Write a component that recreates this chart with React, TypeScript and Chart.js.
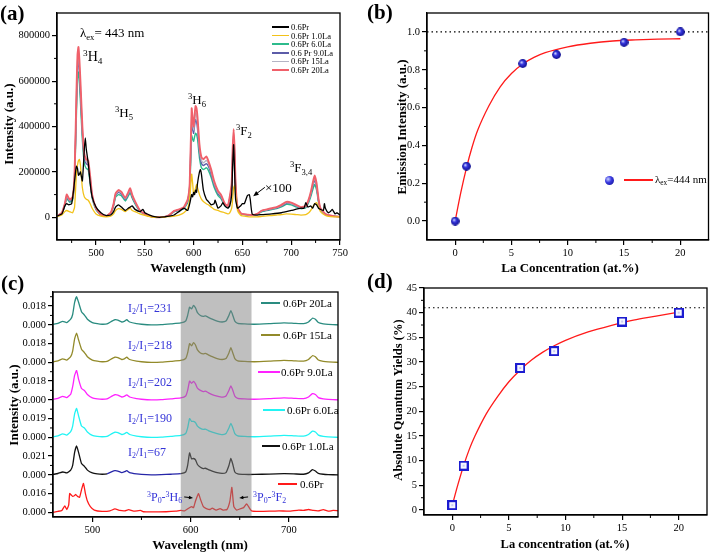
import React, { useEffect, useRef } from 'react';
import { Chart, registerables } from 'chart.js';
Chart.register(...registerables);

const SERIF = '"Liberation Serif", "Times New Roman", Times, serif';

// ================= (a) emission spectra, λex = 443 nm =================
const aWaveLa = [
  460, 465, 468, 470, 473, 476, 478, 480, 481, 482,
  483, 484, 486, 488, 490, 492, 494, 496, 500, 505,
  510, 515, 518, 520, 523, 526, 530, 533, 535, 537,
  540, 545, 550, 555, 560, 565, 570, 575, 580, 585,
  590, 594, 596, 598, 599, 600, 601, 602, 603, 604,
  606, 608, 610, 613, 615, 618, 621, 625, 628, 632,
  635, 637, 639, 640, 641, 642, 643, 645, 648, 650,
  655, 660, 665, 670, 675, 680, 685, 690, 695, 700,
  705, 710, 715, 718, 720, 722, 724, 726, 728, 730,
  735, 740, 745, 750,
];
const a20La = [
  5000, 20000, 60000, 100000, 78000, 90000, 190000, 560000, 715000, 750000,
  690000, 600000, 400000, 280000, 255000, 250000, 180000, 100000, 40000, 12000,
  5000, 20000, 60000, 105000, 120000, 112000, 85000, 110000, 128000, 100000,
  70000, 30000, 15000, 5000, 1000, 0, 2000, 10000, 28000, 35000,
  45000, 80000, 150000, 480000, 430000, 400000, 450000, 490000, 480000, 440000,
  320000, 265000, 256000, 268000, 250000, 210000, 160000, 116000, 100000, 60000,
  50000, 90000, 150000, 300000, 388000, 300000, 150000, 45000, 20000, 15000,
  12000, 10000, 15000, 30000, 35000, 40000, 45000, 55000, 68000, 65000,
  55000, 45000, 50000, 80000, 110000, 150000, 184000, 150000, 80000, 40000,
  15000, 8000, 4000, 3000,
];
const a15La = [
  5000, 19000, 58000, 95000, 75000, 86000, 180000, 540000, 690000, 720000,
  660000, 575000, 385000, 270000, 245000, 240000, 173000, 96000, 38000, 11000,
  5000, 19000, 57000, 100000, 115000, 108000, 82000, 105000, 122000, 96000,
  67000, 29000, 14000, 5000, 1000, 0, 2000, 10000, 27000, 33000,
  43000, 76000, 140000, 450000, 410000, 385000, 425000, 460000, 450000, 415000,
  300000, 250000, 240000, 250000, 238000, 200000, 152000, 110000, 95000, 57000,
  48000, 85000, 140000, 285000, 370000, 285000, 142000, 43000, 19000, 14000,
  11000, 10000, 14000, 29000, 33000, 38000, 43000, 52000, 65000, 62000,
  52000, 43000, 48000, 76000, 105000, 142000, 175000, 142000, 76000, 38000,
  14000, 8000, 4000, 3000,
];
const a9La = [
  5000, 18000, 55000, 90000, 72000, 83000, 175000, 515000, 660000, 690000,
  635000, 550000, 370000, 258000, 235000, 230000, 165000, 92000, 37000, 11000,
  5000, 18000, 55000, 97000, 110000, 103000, 78000, 101000, 118000, 92000,
  64000, 28000, 14000, 5000, 1000, 0, 2000, 9000, 26000, 32000,
  41000, 73000, 135000, 420000, 390000, 370000, 405000, 430000, 420000, 390000,
  285000, 237000, 228000, 236000, 226000, 190000, 145000, 104000, 90000, 55000,
  46000, 82000, 135000, 275000, 355000, 275000, 138000, 41000, 18000, 14000,
  11000, 9000, 14000, 28000, 32000, 37000, 41000, 50000, 62000, 60000,
  50000, 41000, 46000, 73000, 100000, 135000, 165000, 135000, 73000, 37000,
  14000, 7000, 4000, 3000,
];
const a6La = [
  4000, 17000, 50000, 82000, 66000, 76000, 160000, 470000, 610000, 640000,
  590000, 510000, 340000, 238000, 215000, 210000, 150000, 85000, 34000, 10000,
  4000, 17000, 50000, 88000, 100000, 95000, 72000, 93000, 108000, 85000,
  59000, 25000, 13000, 4000, 1000, 0, 2000, 9000, 24000, 30000,
  38000, 65000, 120000, 360000, 345000, 335000, 355000, 370000, 365000, 345000,
  262000, 218000, 210000, 218000, 208000, 175000, 132000, 95000, 82000, 50000,
  42000, 75000, 125000, 250000, 330000, 255000, 128000, 38000, 17000, 13000,
  10000, 9000, 13000, 25000, 30000, 34000, 38000, 46000, 57000, 55000,
  46000, 38000, 42000, 66000, 90000, 120000, 145000, 120000, 66000, 34000,
  13000, 7000, 4000, 3000,
];
const a1La = [
  3000, 10000, 25000, 30000, 24000, 20000, 45000, 200000, 230000, 250000,
  255000, 230000, 130000, 90000, 80000, 75000, 60000, 40000, 15000, 5000,
  2000, 5000, 15000, 30000, 38000, 35000, 25000, 35000, 40000, 30000,
  25000, 15000, 8000, 3000, 0, 0, 1000, 3000, 5000, 10000,
  20000, 40000, 80000, 190000, 150000, 100000, 110000, 130000, 145000, 130000,
  100000, 80000, 70000, 60000, 55000, 45000, 35000, 30000, 25000, 20000,
  15000, 20000, 40000, 80000, 130000, 140000, 100000, 30000, 10000, 6000,
  3000, 2000, 2000, 4000, 6000, 8000, 10000, 12000, 15000, 14000,
  12000, 10000, 12000, 20000, 30000, 45000, 60000, 65000, 45000, 25000,
  8000, 3000, 2000, 1000,
];
const aWavePr = [
  460, 465, 468, 470, 472, 475, 477, 479, 480, 481,
  482, 483, 484, 486, 488, 489, 490, 492, 494, 496,
  500, 505, 510, 515, 518, 520, 523, 526, 530, 533,
  535, 537, 540, 545, 548, 550, 555, 560, 565, 570,
  575, 580, 585, 590, 594, 596, 598, 599, 600, 601,
  602, 603, 604, 606, 607, 608, 610, 613, 615, 618,
  621, 622, 625, 628, 630, 632, 635, 637, 639, 640,
  641, 642, 643, 645, 648, 650, 652, 655, 657, 658,
  660, 665, 670, 680, 690, 700, 710, 713, 715, 717,
  720, 722, 724, 726, 728, 730, 733, 734, 735, 738,
  740, 742, 745, 747, 750,
];
const aPr = [
  5000, 15000, 50000, 60000, 55000, 60000, 120000, 200000, 225000, 215000,
  185000, 190000, 200000, 160000, 300000, 350000, 300000, 240000, 150000, 90000,
  45000, 20000, 8000, 10000, 25000, 45000, 55000, 45000, 30000, 40000,
  45000, 50000, 35000, 25000, 35000, 20000, 10000, 3000, 0, 2000,
  5000, 10000, 25000, 40000, 30000, 60000, 100000, 90000, 110000, 100000,
  120000, 110000, 150000, 200000, 210000, 190000, 120000, 80000, 70000, 55000,
  60000, 75000, 40000, 50000, 65000, 50000, 40000, 50000, 100000, 230000,
  320000, 200000, 80000, 40000, 50000, 60000, 60000, 95000, 100000, 80000,
  15000, 10000, 12000, 15000, 20000, 30000, 40000, 40000, 65000, 45000,
  50000, 40000, 60000, 55000, 40000, 35000, 30000, 60000, 40000, 20000,
  25000, 35000, 15000, 20000, 10000,
];
const aXTicks = [500, 550, 600, 650, 700, 750];
const aYTicks = [0, 200000, 400000, 600000, 800000];
const aNames = ['0.6Pr', '0.6Pr 1.0La', '0.6Pr 6.0La', '0.6 Pr 9.0La', '0.6Pr 15La', '0.6Pr 20La'];
const aColors = ['#000000', '#f2c21a', '#2dbb8c', '#5c5ca8', '#b4b4c4', '#f0606a'];
const aArrowFrom = { x: 673, y: 132000 };
const aArrowTo = { x: 661, y: 93000 };

// ================= (b) emission intensity vs La =================
const bConc = [0, 1, 6, 9, 15, 20];
const bIntensity = [0, 0.29, 0.833, 0.88, 0.945, 1.0];
const bFitConc = [0, 0.5, 1, 1.5, 2, 3, 4, 5, 6, 7, 8, 10, 12, 14, 16, 18, 20];
const bFitIntensity = [0, 0.15, 0.28, 0.39, 0.48, 0.61, 0.71, 0.78, 0.83, 0.865, 0.89, 0.921, 0.94, 0.952, 0.958, 0.962, 0.964];
const bSaturation = 1.0;
const bXTicks = [0, 5, 10, 15, 20];
const bYTicks = [0, 0.2, 0.4, 0.6, 0.8, 1.0];

// ================= (c) normalised, stacked spectra =================
const cWaveLa = [
  460, 465, 470, 474, 478, 480, 482, 484, 486, 489,
  492, 495, 500, 505, 510, 515, 520, 523, 526, 530,
  533, 535, 538, 545, 550, 560, 570, 580, 590, 595,
  597, 599, 601, 603, 605, 607, 610, 613, 615, 618,
  622, 627, 632, 636, 639, 641, 643, 645, 648, 655,
  665, 680, 695, 705, 715, 720, 724, 727, 730, 735,
  740, 750,
];
const c20La = [
  0.02, 0.08, 0.18, 0.12, 0.3, 0.55, 1.2, 1.5, 1.2, 0.7,
  0.52, 0.3, 0.12, 0.06, 0.03, 0.05, 0.2, 0.27, 0.25, 0.15,
  0.2, 0.27, 0.15, 0.06, 0.03, 0.0, 0.01, 0.05, 0.1, 0.2,
  0.5, 0.94, 0.85, 1.03, 0.9, 0.65, 0.5, 0.45, 0.48, 0.4,
  0.3, 0.2, 0.15, 0.2, 0.5, 0.76, 0.5, 0.2, 0.08, 0.05,
  0.03, 0.06, 0.1, 0.08, 0.06, 0.15, 0.35, 0.3, 0.12, 0.05,
  0.02, 0.0,
];
const c15La = [
  0.02, 0.08, 0.18, 0.12, 0.3, 0.6, 1.25, 1.56, 1.2, 0.7,
  0.52, 0.3, 0.12, 0.06, 0.03, 0.05, 0.2, 0.27, 0.25, 0.15,
  0.2, 0.27, 0.15, 0.06, 0.03, 0.0, 0.01, 0.05, 0.1, 0.2,
  0.5, 1.0, 0.88, 1.05, 0.92, 0.66, 0.5, 0.45, 0.48, 0.4,
  0.3, 0.2, 0.15, 0.2, 0.5, 0.78, 0.5, 0.2, 0.08, 0.05,
  0.03, 0.06, 0.1, 0.08, 0.06, 0.15, 0.35, 0.3, 0.12, 0.05,
  0.02, 0.0,
];
const c9La = [
  0.02, 0.08, 0.18, 0.12, 0.3, 0.7, 1.3, 1.56, 1.1, 0.6,
  0.5, 0.28, 0.1, 0.05, 0.03, 0.05, 0.2, 0.27, 0.25, 0.15,
  0.2, 0.26, 0.15, 0.06, 0.03, 0.0, 0.01, 0.05, 0.1, 0.2,
  0.5, 1.0, 0.88, 0.98, 0.85, 0.62, 0.5, 0.44, 0.46, 0.38,
  0.28, 0.2, 0.14, 0.2, 0.5, 0.74, 0.5, 0.2, 0.08, 0.05,
  0.03, 0.06, 0.1, 0.08, 0.06, 0.15, 0.33, 0.28, 0.12, 0.05,
  0.02, 0.0,
];
const c6La = [
  0.02, 0.08, 0.18, 0.12, 0.3, 0.6, 1.25, 1.54, 1.15, 0.6,
  0.5, 0.28, 0.1, 0.05, 0.03, 0.05, 0.2, 0.27, 0.25, 0.15,
  0.2, 0.26, 0.15, 0.06, 0.03, 0.0, 0.01, 0.05, 0.1, 0.2,
  0.5, 1.0, 0.85, 0.85, 0.78, 0.6, 0.48, 0.42, 0.44, 0.36,
  0.28, 0.2, 0.14, 0.2, 0.5, 0.74, 0.5, 0.2, 0.08, 0.05,
  0.03, 0.06, 0.1, 0.08, 0.06, 0.15, 0.33, 0.28, 0.12, 0.05,
  0.02, 0.0,
];
const c1La = [
  0.02, 0.07, 0.15, 0.1, 0.25, 0.5, 1.2, 1.54, 1.2, 0.6,
  0.45, 0.25, 0.1, 0.05, 0.03, 0.05, 0.17, 0.22, 0.2, 0.12,
  0.17, 0.22, 0.12, 0.05, 0.02, 0.0, 0.01, 0.03, 0.06, 0.15,
  0.5, 1.17, 0.85, 0.87, 0.8, 0.55, 0.4, 0.33, 0.35, 0.28,
  0.2, 0.12, 0.08, 0.12, 0.5, 0.87, 0.55, 0.15, 0.05, 0.02,
  0.02, 0.04, 0.06, 0.05, 0.03, 0.1, 0.28, 0.2, 0.08, 0.03,
  0.01, 0.0,
];
const cWavePr = [
  460, 465, 469, 472, 474, 476, 477, 479, 480, 482,
  483, 485, 487, 489, 491, 493, 495, 498, 502, 510,
  518, 523, 528, 533, 537, 542, 549, 552, 560, 575,
  585, 590, 594, 598, 601, 603, 605, 608, 610, 613,
  616, 620, 622, 626, 630, 633, 637, 640, 642, 644,
  647, 651, 654, 657, 659, 662, 670, 680, 690, 700,
  710, 715, 720, 725, 730, 735, 740, 745, 750,
];
const cPr = [
  0, 0.05, 0.1, 0.34, 0.15, 0.4, 1.0, 0.9, 0.85, 0.9,
  0.95, 0.85, 0.8, 1.2, 1.54, 1.0, 0.6, 0.3, 0.12, 0.05,
  0.08, 0.18, 0.1, 0.08, 0.14, 0.06, 0.1, 0.03, 0.02, 0.03,
  0.06, 0.1, 0.08, 0.22, 0.3, 0.25, 0.6, 1.0, 0.7, 0.3,
  0.2, 0.15, 0.22, 0.12, 0.2, 0.12, 0.15, 0.6, 1.33, 0.3,
  0.12, 0.2, 0.25, 0.45, 0.3, 0.08, 0.05, 0.06, 0.08, 0.06,
  0.12, 0.1, 0.15, 0.1, 0.08, 0.14, 0.06, 0.1, 0.08,
];
const cYTicks = [0, 1, 2, 3, 4, 5, 6, 7, 8, 9, 10, 11];
const cYTickLabels = ['0.000', '0.016', '0.000', '0.021', '0.000', '0.019', '0.000', '0.018', '0.000', '0.018', '0.000', '0.018'];
const cXTicks = [500, 600, 700];
const cRatios = ['231', '218', '202', '190', '67'];
const cNames = ['0.6Pr 20La', '0.6Pr 15La', '0.6Pr 9.0La', '0.6Pr 6.0La', '0.6Pr 1.0La', '0.6Pr'];
const cColors = ['#2a8c80', '#928a2a', '#ff22ff', '#22f4f4', '#111111', '#ff1a1a'];
const cBand = [590, 662];

// ================= (d) quantum yields =================
const dConc = [0, 1, 6, 9, 15, 20];
const dQY = [1, 9, 28.8, 32.2, 38.2, 40];
const dFitConc = [0, 0.5, 1, 1.5, 2, 3, 4, 5, 6, 7, 8, 9, 10, 12, 14, 16, 18, 20];
const dFitQY = [1, 5.2, 9, 12.3, 15, 19.5, 23, 26, 28.4, 30.4, 32, 33.3, 34.4, 36.1, 37.4, 38.5, 39.3, 40.1];
const dSaturation = 41;
const dXTicks = [0, 5, 10, 15, 20];
const dYTicks = [0, 5, 10, 15, 20, 25, 30, 35, 40, 45];

// ================= helpers =================
type Area = { l: number; t: number; r: number; b: number };
const xy = (xs: number[], ys: number[], off = 0) => xs.map((x, i) => ({ x, y: ys[i] + off }));
const range = (a: number, b: number, s: number) => { const o: number[] = []; for (let v = a; v <= b + 1e-9; v += s) o.push(v); return o; };

function axis(which: 'x' | 'y', min: number, max: number, ticks: number[], fmt: (v: number) => string, thickness: number, size: number) {
  return {
    type: 'linear', min, max, position: which === 'x' ? 'bottom' : 'left',
    afterBuildTicks: (s: any) => { s.ticks = ticks.map((v) => ({ value: v })); },
    afterFit: (s: any) => { if (which === 'x') s.height = thickness; else s.width = thickness; },
    ticks: { color: '#000', font: { family: SERIF, size }, padding: 2, autoSkip: false, maxRotation: 0, minRotation: 0, callback: (v: any) => fmt(Number(v)) },
    grid: { display: true, drawOnChartArea: false, drawTicks: true, tickLength: 5, tickColor: '#000', tickWidth: 1.2, color: '#000', lineWidth: 1.2 },
    border: { display: true, color: '#000', width: 1.3 },
  };
}

function drawArrow(ctx: CanvasRenderingContext2D, x1: number, y1: number, x2: number, y2: number, head = 5) {
  const ang = Math.atan2(y2 - y1, x2 - x1);
  ctx.beginPath();
  ctx.moveTo(x1, y1);
  ctx.lineTo(x2 - Math.cos(ang) * head * 0.6, y2 - Math.sin(ang) * head * 0.6);
  ctx.stroke();
  ctx.beginPath();
  ctx.moveTo(x2, y2);
  ctx.lineTo(x2 - head * Math.cos(ang - 0.4), y2 - head * Math.sin(ang - 0.4));
  ctx.lineTo(x2 - head * Math.cos(ang + 0.4), y2 - head * Math.sin(ang + 0.4));
  ctx.closePath();
  ctx.fill();
}

function framePlugin(minorX: number[], minorY: number[], overlay?: (chart: any) => void) {
  return {
    id: 'frame',
    afterDatasetsDraw(chart: any) { if (overlay) { chart.ctx.save(); overlay(chart); chart.ctx.restore(); } },
    afterDraw(chart: any) {
      const { ctx, chartArea: a, scales } = chart;
      ctx.save();
      ctx.strokeStyle = '#000';
      ctx.lineWidth = 1.3;
      ctx.strokeRect(a.left, a.top, a.right - a.left, a.bottom - a.top);
      ctx.lineWidth = 1;
      ctx.beginPath();
      minorX.forEach((v) => { const x = scales.x.getPixelForValue(v); ctx.moveTo(x, a.bottom); ctx.lineTo(x, a.bottom + 3); });
      minorY.forEach((v) => { const y = scales.y.getPixelForValue(v); ctx.moveTo(a.left, y); ctx.lineTo(a.left - 3, y); });
      ctx.stroke();
      ctx.restore();
    },
  };
}

function makeConfig(W: number, H: number, area: Area, datasets: any[], xAxis: any, yAxis: any, plugin: any) {
  return {
    type: 'scatter',
    data: { datasets },
    options: {
      responsive: false, animation: false, devicePixelRatio: 1, events: [],
      layout: { padding: { left: 0, top: area.t, right: W - area.r, bottom: 0 } },
      plugins: { legend: { display: false }, tooltip: { enabled: false }, title: { display: false } },
      scales: { x: xAxis, y: yAxis },
    },
    plugins: [plugin],
  } as any;
}

const line = (data: any[], color: string, width: number, order: number, extra: any = {}) => ({
  data, showLine: true, borderColor: color, backgroundColor: color, borderWidth: width, pointRadius: 0, tension: 0.15, fill: false, order, ...extra,
});

// ================= overlays =================
const Sup = ({ children }: any) => <span style={{ fontSize: '0.66em', position: 'relative', top: '-0.55em' }}>{children}</span>;
const Sub = ({ children }: any) => <span style={{ fontSize: '0.66em', position: 'relative', top: '0.3em' }}>{children}</span>;
const T = ({ x, y, size = 13, color = '#000', bold = false, anchor = 'left', rot = false, children }: any) => (
  <div style={{
    position: 'absolute', left: x, top: y, fontSize: size, color, fontWeight: bold ? 700 : 400, lineHeight: 1, whiteSpace: 'nowrap', fontFamily: SERIF,
    transform: rot ? 'translate(-50%,-50%) rotate(-90deg)' : anchor === 'center' ? 'translate(-50%,-50%)' : 'translate(0,-50%)',
  }}>{children}</div>
);
const L = ({ x1, x2, y, color, w = 1.5 }: any) => (
  <div style={{ position: 'absolute', left: x1, top: y - w / 2, width: x2 - x1, height: w, background: color }} />
);

export default function App() {
  const aRef = useRef<HTMLCanvasElement>(null);
  const bRef = useRef<HTMLCanvasElement>(null);
  const cRef = useRef<HTMLCanvasElement>(null);
  const dRef = useRef<HTMLCanvasElement>(null);

  useEffect(() => {
    const charts: Chart[] = [];

    const sphere = document.createElement('canvas');
    sphere.width = 9; sphere.height = 9;
    {
      const g = sphere.getContext('2d')!;
      const grad = g.createRadialGradient(3.2, 3.2, 0.4, 4.5, 4.5, 4.6);
      grad.addColorStop(0, '#c8d0ff');
      grad.addColorStop(0.35, '#3a3ae0');
      grad.addColorStop(1, '#0a0a8a');
      g.fillStyle = grad;
      g.beginPath(); g.arc(4.5, 4.5, 4.4, 0, Math.PI * 2); g.fill();
    }
    const square = document.createElement('canvas');
    square.width = 10; square.height = 10;
    {
      const g = square.getContext('2d')!;
      g.fillStyle = '#f4f6ff'; g.fillRect(1, 1, 8, 8);
      g.strokeStyle = '#1c1cd0'; g.lineWidth = 2; g.strokeRect(1, 1, 8, 8);
      g.fillStyle = '#5050d0'; g.fillRect(4.5, 4.5, 1, 1);
    }

    // ---- (a)
    {
      const W = 357, H = 270, A = { l: 57, t: 13, r: 340, b: 240 };
      const ds = [
        line(xy(aWavePr, aPr), aColors[0], 1.3, 0),
        line(xy(aWaveLa, a1La), aColors[1], 1.3, 1),
        line(xy(aWaveLa, a20La), aColors[5], 1.9, 2),
        line(xy(aWaveLa, a15La), aColors[4], 1.4, 3),
        line(xy(aWaveLa, a9La), aColors[3], 1.4, 4),
        line(xy(aWaveLa, a6La), aColors[2], 1.4, 5),
      ];
      const plug = framePlugin(range(475, 725, 50), range(100000, 700000, 200000), (chart: any) => {
        const { ctx, scales } = chart;
        ctx.strokeStyle = '#000'; ctx.fillStyle = '#000'; ctx.lineWidth = 1;
        drawArrow(ctx, scales.x.getPixelForValue(aArrowFrom.x), scales.y.getPixelForValue(aArrowFrom.y),
          scales.x.getPixelForValue(aArrowTo.x), scales.y.getPixelForValue(aArrowTo.y), 6);
      });
      charts.push(new Chart(aRef.current!, makeConfig(W, H, A, ds,
        axis('x', 460, 750, aXTicks, (v) => String(v), H - A.b, 10.5),
        axis('y', -100000, 900000, aYTicks, (v) => String(Math.round(v)), A.l, 10.5), plug)));
    }

    // ---- (b)
    {
      const W = 357, H = 270, A = { l: 70, t: 13, r: 352, b: 240 };
      const ds = [
        line([{ x: -2.5, y: bSaturation }, { x: 22.5, y: bSaturation }], '#000', 1.2, 2, { borderDash: [1.5, 3], tension: 0 }),
        line(xy(bFitConc, bFitIntensity), '#ff1a1a', 1.3, 1, { cubicInterpolationMode: 'monotone' }),
        { data: xy(bConc, bIntensity), showLine: false, pointStyle: sphere, pointRadius: 4.5, order: 0 },
      ];
      charts.push(new Chart(bRef.current!, makeConfig(W, H, A, ds,
        axis('x', -2.5, 22.5, bXTicks, (v) => String(v), H - A.b, 10.5),
        axis('y', -0.1, 1.1, bYTicks, (v) => v.toFixed(1), A.l, 10.5),
        framePlugin([2.5, 7.5, 12.5, 17.5], [0.1, 0.3, 0.5, 0.7, 0.9]))));
    }

    // ---- (c)
    {
      const W = 357, H = 282, A = { l: 53, t: 22, r: 338, b: 247 };
      const ds = [
        line(xy(cWaveLa, c20La, 10), cColors[0], 1.3, 0),
        line(xy(cWaveLa, c15La, 8), cColors[1], 1.3, 1),
        line(xy(cWaveLa, c9La, 6), cColors[2], 1.3, 2),
        line(xy(cWaveLa, c6La, 4), cColors[3], 1.3, 3),
        line(xy(cWaveLa, c1La, 2), cColors[4], 1.3, 4, {
          segment: { borderColor: (s: any) => (s.p0.parsed.x >= 515 && s.p1.parsed.x <= 592 ? '#2626a8' : cColors[4]) },
        }),
        line(xy(cWavePr, cPr, 0), cColors[5], 1.3, 5),
      ];
      const plug = framePlugin([550, 650], range(0.5, 11.5, 1), (chart: any) => {
        const { ctx, scales, chartArea: a } = chart;
        const x0 = scales.x.getPixelForValue(cBand[0]);
        const x1 = scales.x.getPixelForValue(cBand[1]);
        ctx.fillStyle = 'rgba(128,128,128,0.5)';
        ctx.fillRect(x0, a.top, x1 - x0, a.bottom - a.top);
        ctx.strokeStyle = '#000'; ctx.fillStyle = '#000'; ctx.lineWidth = 1;
        const yy = scales.y.getPixelForValue(0.82);
        drawArrow(ctx, scales.x.getPixelForValue(593.5), yy, scales.x.getPixelForValue(602.5), yy + 1, 4.5);
        drawArrow(ctx, scales.x.getPixelForValue(658.5), yy, scales.x.getPixelForValue(649.5), yy + 1, 4.5);
      });
      charts.push(new Chart(cRef.current!, makeConfig(W, H, A, ds,
        axis('x', 460, 750, cXTicks, (v) => String(v), H - A.b, 10.5),
        axis('y', -0.25, 11.75, cYTicks, (v) => cYTickLabels[Math.round(v)], A.l, 10.5), plug)));
    }

    // ---- (d)
    {
      const W = 357, H = 282, A = { l: 67, t: 18, r: 350, b: 245 };
      const ds = [
        line([{ x: -2.5, y: dSaturation }, { x: 22.5, y: dSaturation }], '#000', 1.2, 2, { borderDash: [1.5, 3], tension: 0 }),
        line(xy(dFitConc, dFitQY), '#ff1a1a', 1.3, 1, { cubicInterpolationMode: 'monotone' }),
        { data: xy(dConc, dQY), showLine: false, pointStyle: square, pointRadius: 5, order: 0 },
      ];
      charts.push(new Chart(dRef.current!, makeConfig(W, H, A, ds,
        axis('x', -2.5, 22.5, dXTicks, (v) => String(v), H - A.b, 10.5),
        axis('y', -1, 45, dYTicks, (v) => String(v), A.l, 10.5),
        framePlugin([2.5, 7.5, 12.5, 17.5], range(2.5, 42.5, 5)))));
    }

    return () => charts.forEach((c) => c.destroy());
  }, []);

  const blue = '#3434d8';
  const aRows = [27, 35.6, 44.2, 52.8, 61.4, 70];
  const cLegend = [
    { y: 303, x1: 261, x2: 280, tx: 283 },
    { y: 335, x1: 261, x2: 280, tx: 283 },
    { y: 372, x1: 258, x2: 280, tx: 281 },
    { y: 410, x1: 263, x2: 285, tx: 287 },
    { y: 446, x1: 262, x2: 280, tx: 282 },
    { y: 484, x1: 278, x2: 297, tx: 300 },
  ];
  const ratioY = [308, 345, 382, 418, 452];

  return (
    <div style={{ position: 'absolute', left: 0, top: 0, width: 714, height: 552, background: '#fff', fontFamily: SERIF, overflow: 'hidden' }}>
      <canvas ref={aRef} width={357} height={270} style={{ position: 'absolute', left: 0, top: 0 }} />
      <canvas ref={bRef} width={357} height={270} style={{ position: 'absolute', left: 357, top: 0 }} />
      <canvas ref={cRef} width={357} height={282} style={{ position: 'absolute', left: 0, top: 270 }} />
      <canvas ref={dRef} width={357} height={282} style={{ position: 'absolute', left: 357, top: 270 }} />

      <T x={0} y={13} size={21} bold>(a)</T>
      <T x={367} y={12} size={21} bold>(b)</T>
      <T x={1} y={283} size={21} bold>(c)</T>
      <T x={367} y={281} size={21} bold>(d)</T>

      <T x={8} y={124} size={13} bold rot>Intensity (a.u.)</T>
      <T x={198} y={267} size={13} bold anchor="center">Wavelength (nm)</T>
      <T x={401} y={127} size={13} bold rot>Emission Intensity (a.u.)</T>
      <T x={570} y={267} size={13} bold anchor="center">La Concentration (at.%)</T>
      <T x={13} y={405} size={13} bold rot>Intensity (a.u.)</T>
      <T x={200} y={544} size={13} bold anchor="center">Wavelength (nm)</T>
      <T x={398} y={400} size={12.5} bold rot>Absolute Quantum Yields (%)</T>
      <T x={565} y={544} size={12.5} bold anchor="center">La concentration (at.%)</T>

      <T x={80} y={32} size={13}>λ<Sub>ex</Sub>= 443 nm</T>
      <T x={83} y={57} size={14}><Sup>3</Sup>H<Sub>4</Sub></T>
      <T x={115} y={112} size={13}><Sup>3</Sup>H<Sub>5</Sub></T>
      <T x={188} y={99} size={13}><Sup>3</Sup>H<Sub>6</Sub></T>
      <T x={236} y={130} size={13}><Sup>3</Sup>F<Sub>2</Sub></T>
      <T x={290} y={167} size={13}><Sup>3</Sup>F<Sub>3,4</Sub></T>
      <T x={265} y={187} size={13}>×100</T>
      {aNames.map((n, i) => (
        <React.Fragment key={n}>
          <L x1={272} x2={289} y={aRows[i]} color={aColors[i]} w={1.6} />
          <T x={291} y={aRows[i]} size={8.5}>{n}</T>
        </React.Fragment>
      ))}

      <div style={{ position: 'absolute', left: 604.5, top: 175.5, width: 9, height: 9, borderRadius: '50%', background: 'radial-gradient(circle at 35% 35%, #c8d0ff 0%, #3a3ae0 40%, #0a0a8a 100%)' }} />
      <L x1={624} x2={653} y={180} color="#ff1a1a" w={1.5} />
      <T x={655} y={180} size={11}>λ<Sub>ex</Sub>=444 nm</T>

      {cRatios.map((r, i) => (
        <T key={r} x={128} y={ratioY[i]} size={12} color={blue}>I<Sub>2</Sub>/I<Sub>1</Sub>={r}</T>
      ))}
      <T x={147} y={497} size={12} color={blue}><Sup>3</Sup>P<Sub>0</Sub>-<Sup>3</Sup>H<Sub>6</Sub></T>
      <T x={253} y={497} size={12} color={blue}><Sup>3</Sup>P<Sub>0</Sub>-<Sup>3</Sup>F<Sub>2</Sub></T>
      {cNames.map((n, i) => (
        <React.Fragment key={n}>
          <L x1={cLegend[i].x1} x2={cLegend[i].x2} y={cLegend[i].y} color={cColors[i]} w={1.6} />
          <T x={cLegend[i].tx} y={cLegend[i].y} size={11}>{n}</T>
        </React.Fragment>
      ))}
    </div>
  );
}
